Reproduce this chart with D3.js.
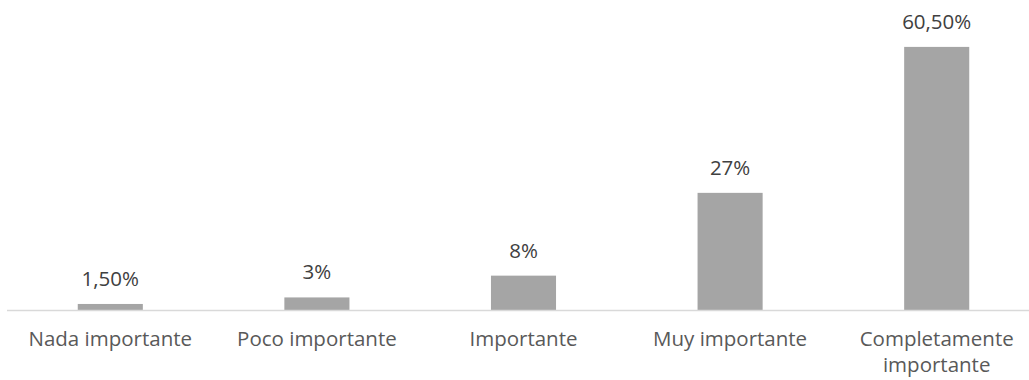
<!DOCTYPE html>
<html>
<head>
<meta charset="utf-8">
<script src="https://cdn.jsdelivr.net/npm/d3@7"></script>
<style>
  body { margin: 0; background: #fff; }
  svg { display: block; font-family: "Open Sans", sans-serif; }
</style>
</head>
<body>
<svg width="1029" height="380"></svg>
<script>
// chart data
const categories = ["Nada importante", "Poco importante", "Importante", "Muy importante", "Completamente importante"];
const values = [1.5, 3, 8, 27, 60.5];
const valueLabels = ["1,50%", "3%", "8%", "27%", "60,50%"];

const svg = d3.select("svg");
const baseY = 310.5;

const x = d3.scaleBand()
    .domain(categories)
    .range([7, 1040])
    .paddingInner(0.685)
    .paddingOuter(0.3425);

const y = d3.scaleLinear()
    .domain([0, 70])
    .range([baseY, 5.5]);

const data = categories.map((c, i) => ({ cat: c, value: values[i], label: valueLabels[i] }));

// bars
svg.append("g")
    .selectAll("rect")
    .data(data)
    .enter().append("rect")
    .attr("x", d => x(d.cat))
    .attr("y", d => y(d.value))
    .attr("width", x.bandwidth())
    .attr("height", d => baseY - y(d.value))
    .attr("fill", "#a5a5a5");

// category axis line
svg.append("line")
    .attr("x1", 7)
    .attr("x2", 1029)
    .attr("y1", baseY)
    .attr("y2", baseY)
    .attr("stroke", "#d9d9d9")
    .attr("stroke-width", 1.5);

// data labels
svg.append("g")
    .selectAll("text")
    .data(data)
    .enter().append("text")
    .attr("x", d => x(d.cat) + x.bandwidth() / 2)
    .attr("y", d => y(d.value) - 18)
    .attr("text-anchor", "middle")
    .attr("font-size", 20.5)
    .attr("fill", "#404040")
    .text(d => d.label);

// category labels, wrapped when too wide for the band
const labels = svg.append("g")
    .selectAll("text")
    .data(categories)
    .enter().append("text")
    .attr("x", d => x(d) + x.bandwidth() / 2)
    .attr("y", 346)
    .attr("text-anchor", "middle")
    .attr("font-size", 20.5)
    .attr("fill", "#595959")
    .text(d => d);

labels.each(function(d) {
    const t = d3.select(this);
    if (this.getComputedTextLength() <= x.step() - 10) return;
    const cx = t.attr("x");
    const words = d.split(" ");
    t.text(null);
    words.forEach((w, i) => {
        t.append("tspan")
            .attr("x", cx)
            .attr("dy", i === 0 ? 0 : 26)
            .text(w);
    });
});
</script>
</body>
</html>
